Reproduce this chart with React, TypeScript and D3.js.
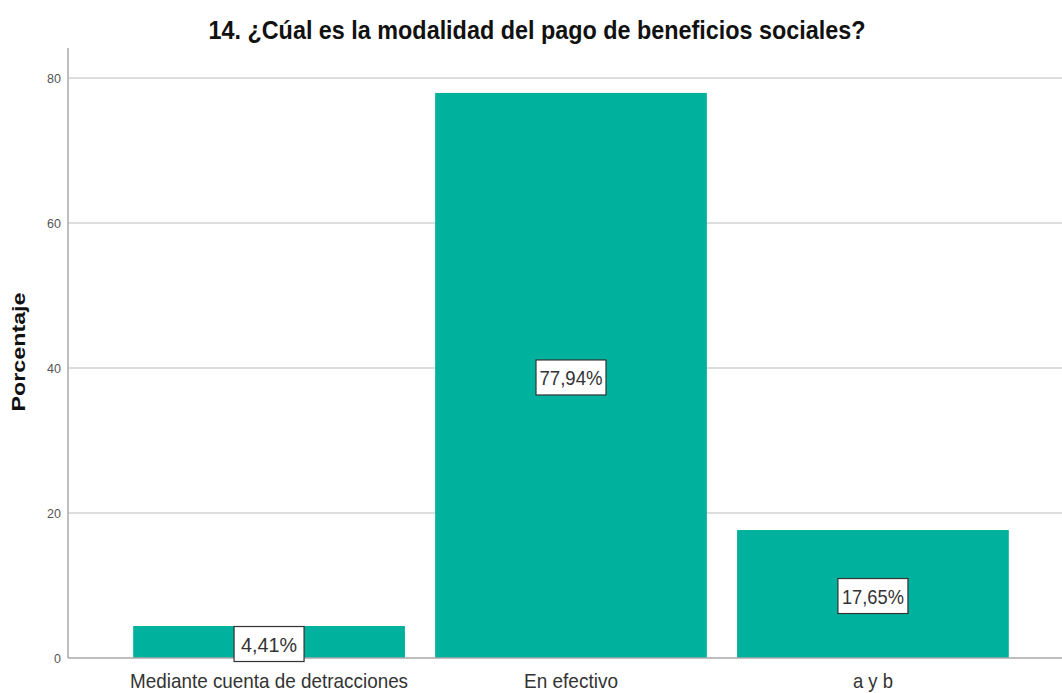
import React from "react";
import * as d3 from "d3";

const categories = ["Mediante cuenta de detracciones", "En efectivo", "a y b"];
const values = [4.41, 77.94, 17.65];
const valueLabels = ["4,41%", "77,94%", "17,65%"];
const yTicks = [0, 20, 40, 60, 80];
const title = "14. ¿Cúal es la modalidad del pago de beneficios sociales?";
const yTitle = "Porcentaje";

const W = 1062;
const H = 693;
const FONT = "'Liberation Sans', Arial, sans-serif";

export default function App() {
  const x0 = 68;
  const x1 = 1062;
  const y = d3.scaleLinear().domain([0, 80]).range([658, 78]);
  const x = d3.scaleBand<string>().domain(categories).range([103, 1039]).paddingInner(0.1).paddingOuter(0.1);
  const catLens = [278, 94, 40];
  const valLens = [56, 63, 62];

  return (
    <svg width={W} height={H} style={{ position: "absolute", left: 0, top: 0, background: "#fff" }}>
      <text x={537} y={39} textAnchor="middle" fontFamily={FONT} fontWeight="bold" fontSize={25} fill="#111"
        textLength={657} lengthAdjust="spacingAndGlyphs">
        {title}
      </text>
      {yTicks.map((t) => (
        <g key={t}>
          {t > 0 && <line x1={x0} x2={x1} y1={y(t)} y2={y(t)} stroke="#d2d2d2" strokeWidth={1.5} />}
          <text x={61} y={y(t) + 4.5} textAnchor="end" fontFamily={FONT} fontSize={12.5} fill="#555">
            {t}
          </text>
        </g>
      ))}
      <line x1={x0} x2={x0} y1={48} y2={y(0)} stroke="#a8a8a8" strokeWidth={1.5} />
      {categories.map((c, i) => (
        <rect key={c} x={x(c)} y={y(values[i])} width={x.bandwidth()} height={y(0) - y(values[i])} fill="#00b29d" />
      ))}
      <line x1={x0} x2={x1} y1={y(0)} y2={y(0)} stroke="#a8a8a8" strokeWidth={1.5} />
      {categories.map((c, i) => {
        const cx = (x(c) as number) + x.bandwidth() / 2;
        const cy = (y(values[i]) + y(0)) / 2 + 2;
        return (
          <g key={"l" + c}>
            <rect x={cx - 35} y={cy - 17.5} width={70} height={35} fill="#fff" stroke="#333" strokeWidth={1.2} />
            <text x={cx} y={cy + 7.5} textAnchor="middle" fontFamily={FONT} fontSize={21} fill="#333"
              textLength={valLens[i]} lengthAdjust="spacingAndGlyphs">
              {valueLabels[i]}
            </text>
          </g>
        );
      })}
      {categories.map((c, i) => (
        <text key={"c" + c} x={(x(c) as number) + x.bandwidth() / 2} y={688} textAnchor="middle" fontFamily={FONT} fontSize={21} fill="#333"
          textLength={catLens[i]} lengthAdjust="spacingAndGlyphs">
          {c}
        </text>
      ))}
      <text transform={`translate(25,352) rotate(-90)`} textAnchor="middle" fontFamily={FONT} fontWeight="bold" fontSize={19} fill="#111"
        textLength={119} lengthAdjust="spacingAndGlyphs">
        {yTitle}
      </text>
    </svg>
  );
}
